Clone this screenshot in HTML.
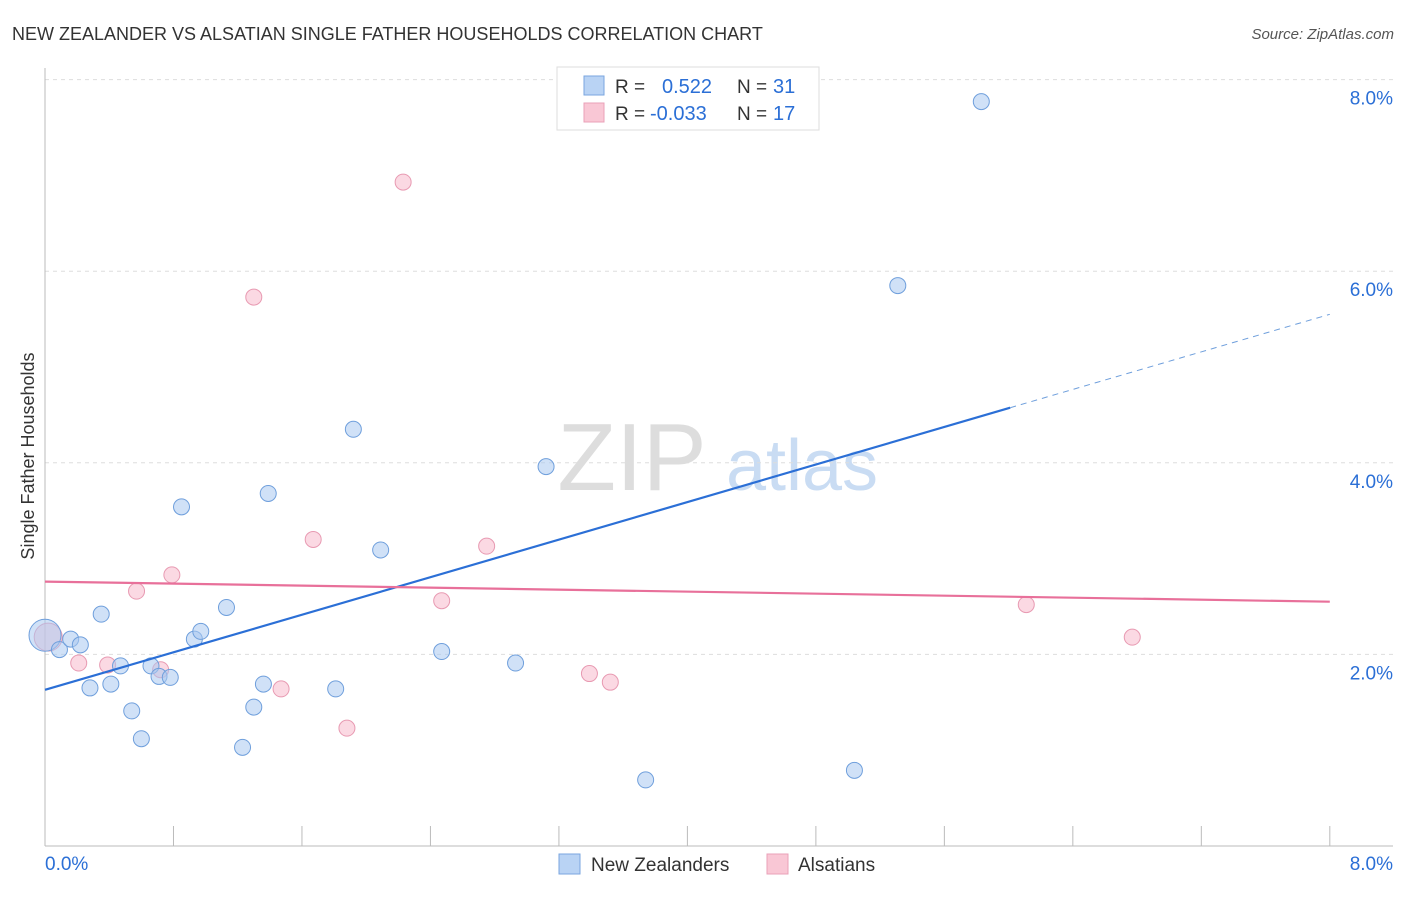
<!DOCTYPE html>
<html><head><meta charset="utf-8">
<style>
body{margin:0;background:#fff;font-family:"Liberation Sans",sans-serif;}
svg text{font-family:"Liberation Sans",sans-serif;}
</style></head>
<body>
<svg id="chart" width="1406" height="892" viewBox="0 0 1406 892" xmlns="http://www.w3.org/2000/svg">
<text x="12" y="40" font-size="18" fill="#333">NEW ZEALANDER VS ALSATIAN SINGLE FATHER HOUSEHOLDS CORRELATION CHART</text>
<text x="1394" y="39" font-size="15" fill="#555" text-anchor="end" font-style="italic">Source: ZipAtlas.com</text>
<g>
<text x="632" y="490" font-size="96" fill="#ddd" font-family="Liberation Serif" text-anchor="middle">ZIP</text>
<text x="802" y="490" font-size="72" fill="#c9dcf3" text-anchor="middle">atlas</text>
</g>
<g id="grid"></g>
<g id="axes"></g>
<g id="marks"></g>
<text transform="translate(34,456) rotate(-90)" font-size="18" fill="#333" text-anchor="middle">Single Father Households</text>
<g>
<rect x="557" y="67" width="262" height="63" fill="#fff" stroke="#ddd"/>
<rect x="584" y="76" width="20" height="19" fill="#b9d3f4" stroke="#7aa6df"/>
<rect x="584" y="103" width="20" height="19" fill="#f9c7d5" stroke="#eaa0b8"/>
<text x="615" y="93" font-size="19" fill="#333">R = </text>
<text x="662" y="93" font-size="20" fill="#2b6fd6">0.522</text>
<text x="737" y="93" font-size="19" fill="#333">N = </text>
<text x="773" y="93" font-size="20" fill="#2b6fd6">31</text>
<text x="615" y="120" font-size="19" fill="#333">R = </text>
<text x="650" y="120" font-size="20" fill="#2b6fd6">-0.033</text>
<text x="737" y="120" font-size="19" fill="#333">N = </text>
<text x="773" y="120" font-size="20" fill="#2b6fd6">17</text>
</g>
<g>
<rect x="559" y="854" width="21" height="20" fill="#b9d3f4" stroke="#7aa6df"/>
<text x="591" y="871" font-size="19" fill="#333">New Zealanders</text>
<rect x="767" y="854" width="21" height="20" fill="#f9c7d5" stroke="#eaa0b8"/>
<text x="798" y="871" font-size="19" fill="#333">Alsatians</text>
</g>
</svg>
<script>
const yTicks=[2,4,6,8];
const yTickLabels=["2.0%","4.0%","6.0%","8.0%"];
const xEndLabels=["0.0%","8.0%"];
const blueX=[0,0.09,0.16,0.22,0.28,0.35,0.41,0.47,0.54,0.60,0.66,0.71,0.78,0.85,0.93,0.97,1.13,1.23,1.30,1.36,1.39,1.81,1.92,2.09,2.47,2.93,3.12,3.74,5.04,5.31,5.83];
const blueY=[2.20,2.05,2.16,2.10,1.65,2.42,1.69,1.88,1.41,1.12,1.88,1.77,1.76,3.54,2.16,2.24,2.49,1.03,1.45,1.69,3.68,1.64,4.35,3.09,2.03,1.91,3.96,0.69,0.79,5.85,7.77];
const pinkX=[0.02,0.21,0.39,0.57,0.72,0.79,1.30,1.47,1.67,1.88,2.23,2.47,2.75,3.39,3.52,6.11,6.77];
const pinkY=[2.18,1.91,1.89,2.66,1.84,2.83,5.73,1.64,3.20,1.23,6.93,2.56,3.13,1.80,1.71,2.52,2.18];
const blueTrend=[1.63,5.55]; // y at x=0 and x=8
const blueSolidEnd=6.01;
const pinkTrend=[2.76,2.55];

const NS="http://www.w3.org/2000/svg";
const X=v=>45+v*160.6;
const Y=v=>846-v*95.8;
function mk(tag,attrs,parent){const e=document.createElementNS(NS,tag);for(const k in attrs)e.setAttribute(k,attrs[k]);parent.appendChild(e);return e;}
const grid=document.getElementById('grid'),axes=document.getElementById('axes'),marks=document.getElementById('marks');
yTicks.forEach((t,i)=>{
 const l=mk('line',{x1:45,x2:1393,y1:Y(t),y2:Y(t),stroke:'#ddd','stroke-dasharray':'4,4'},grid);
 
 
 const tx=mk('text',{x:1393,y:Y(t)+25,'font-size':19,fill:'#2b6fd6','text-anchor':'end'},axes);
 tx.textContent=yTickLabels[i];
 
 
});
const xa=mk('line',{x1:45,x2:1393,y1:846,y2:846,stroke:'#bbb'},axes);


const ya=mk('line',{x1:45,x2:45,y1:68,y2:846,stroke:'#bbb'},axes);


for(let i=1;i<=10;i++){
 const v=i*0.8;
 const t=mk('line',{x1:X(v),x2:X(v),y1:826,y2:846,stroke:'#bbb'},axes);
 
 
}
[[0,'start',45],[8,'end',1393]].forEach((a,i)=>{
 const tx=mk('text',{x:a[2],y:870,'font-size':19,fill:'#2b6fd6','text-anchor':a[1]},axes);
 tx.textContent=xEndLabels[i];
 
 
});
function dot(x,y,r,fill,stroke,name){
 const c=mk('circle',{cx:X(x),cy:Y(y),r:r,fill:fill,'fill-opacity':0.55,stroke:stroke,'stroke-width':1},marks);
 
 
}
pinkX.forEach((x,i)=>dot(x,pinkY[i],i===0?14:8,'#f7b9cc','#e89ab2','alsatian-point'));
blueX.forEach((x,i)=>dot(x,blueY[i],i===0?16:8,'#a9c8f0','#6f9fdc','new-zealander-point'));
const bAt=v=>blueTrend[0]+(blueTrend[1]-blueTrend[0])*v/8;
const bl=mk('line',{x1:X(0),y1:Y(bAt(0)),x2:X(blueSolidEnd),y2:Y(bAt(blueSolidEnd)),stroke:'#2b6fd6','stroke-width':2.2},marks);


const bd=mk('line',{x1:X(blueSolidEnd),y1:Y(bAt(blueSolidEnd)),x2:X(8),y2:Y(bAt(8)),stroke:'#6f9fdc','stroke-width':1,'stroke-dasharray':'6,5'},marks);


const pl=mk('line',{x1:X(0),y1:Y(pinkTrend[0]),x2:X(8),y2:Y(pinkTrend[1]),stroke:'#e8709a','stroke-width':2.2},marks);


</script>
</body></html>
